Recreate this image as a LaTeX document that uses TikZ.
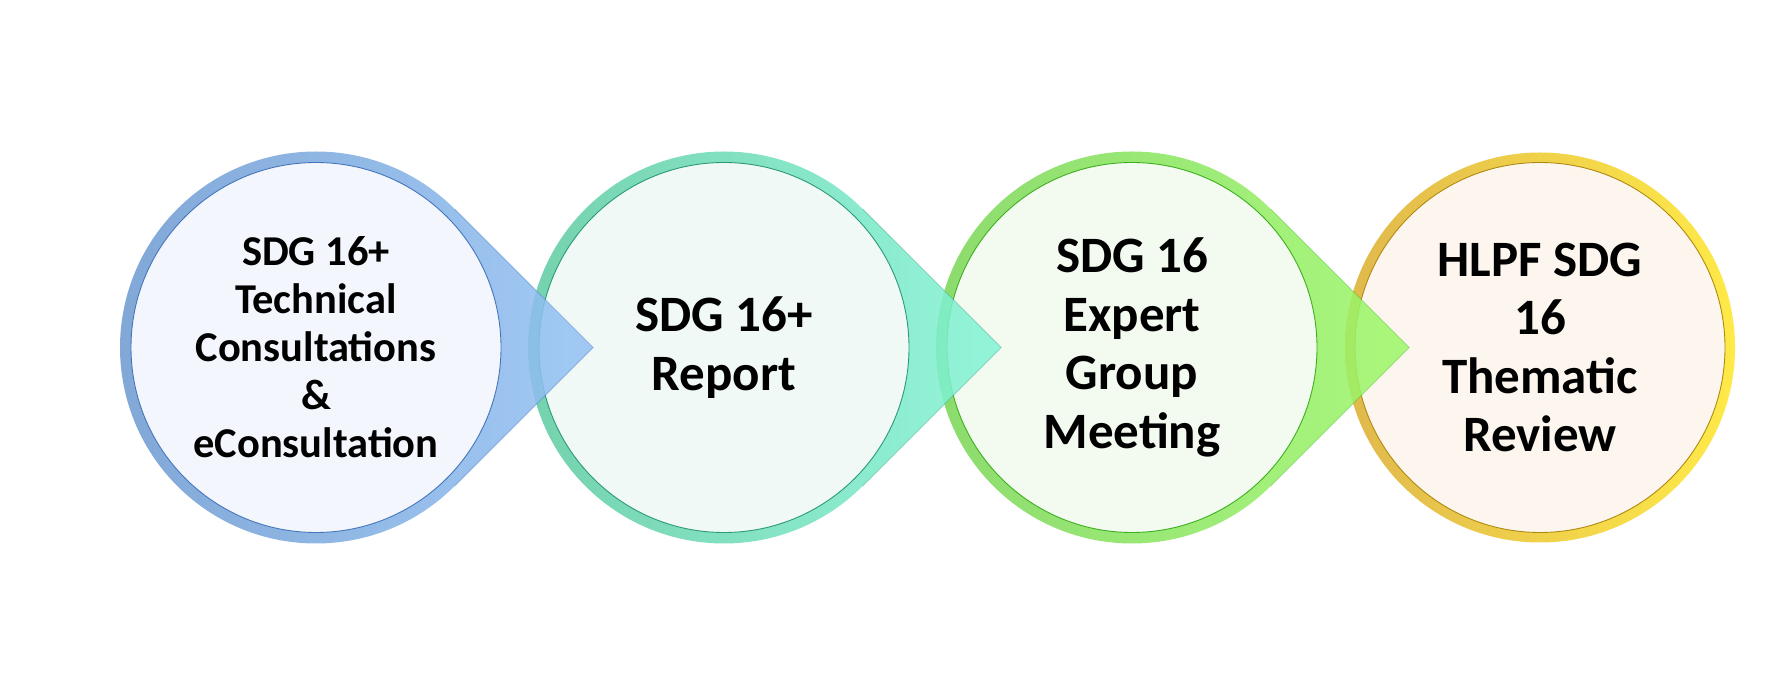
\documentclass[tikz,border=0pt]{standalone}
\usepackage{fontspec}
\setmainfont{Carlito}
\definecolor{bL}{HTML}{6B98CF}\definecolor{bR}{HTML}{94C2F4}\definecolor{bI}{HTML}{F3F6FD}\definecolor{bO}{HTML}{4576BC}
\definecolor{tL}{HTML}{5CC99E}\definecolor{tR}{HTML}{84F4D6}\definecolor{tI}{HTML}{F0F9F6}\definecolor{tO}{HTML}{2A9A78}
\definecolor{gL}{HTML}{78D455}\definecolor{gR}{HTML}{9EF86A}\definecolor{gI}{HTML}{F3FAF0}\definecolor{gO}{HTML}{3CB01E}
\definecolor{yL}{HTML}{E0B84C}\definecolor{yR}{HTML}{FFEA48}\definecolor{yI}{HTML}{FDF6EE}\definecolor{yO}{HTML}{B08A10}
\newcommand{\mytear}[4]{% cx, left, right, edge
  \shade[left color=#2, right color=#3, fill opacity=0.86]
    (#1,348.5) ++(45:196) arc[start angle=45,end angle=315,radius=196]
    -- (#1+277.2,348.5) -- cycle;
  \draw[#4, draw opacity=0.35, line width=1pt]
    (#1,348.5) ++(45:196) -- (#1+277.2,348.5) -- ++(-138.6,-138.6);
}
\tikzset{
  inner/.style={circle, minimum size=370pt, inner sep=0pt, line width=0.9pt, align=center, text=black},
  smalltxt/.style={font=\fontsize{42.5}{48}\selectfont\bfseries},
  bigtxt/.style={font=\fontsize{51}{58.5}\selectfont\bfseries}
}
\begin{document}
\begin{tikzpicture}[x=1pt,y=1pt]
\useasboundingbox[fill=white] (0,0) rectangle (1774,696);
% circle 4 (no pointer)
\shade[left color=yL, right color=yR] (1540,348.5) circle[radius=195];
\node[inner, bigtxt, fill=yI, draw=yO] (c4) at (1540,348.5) {HLPF SDG\\16\\Thematic\\Review};
% circle 3
\mytear{1132}{gL}{gR}{gO}
\node[inner, bigtxt, fill=gI, draw=gO] (c3) at (1132,348.5) {SDG 16\\Expert\\Group\\Meeting};
% circle 2
\mytear{724}{tL}{tR}{tO}
\node[inner, bigtxt, fill=tI, draw=tO] (c2) at (724,348.5) {SDG 16+\\Report};
% circle 1
\mytear{316}{bL}{bR}{bO}
\node[inner, smalltxt, fill=bI, draw=bO] (c1) at (316,348.5) {SDG 16+\\Technical\\Consultations\\\&\\eConsultation};
\end{tikzpicture}
\end{document}
